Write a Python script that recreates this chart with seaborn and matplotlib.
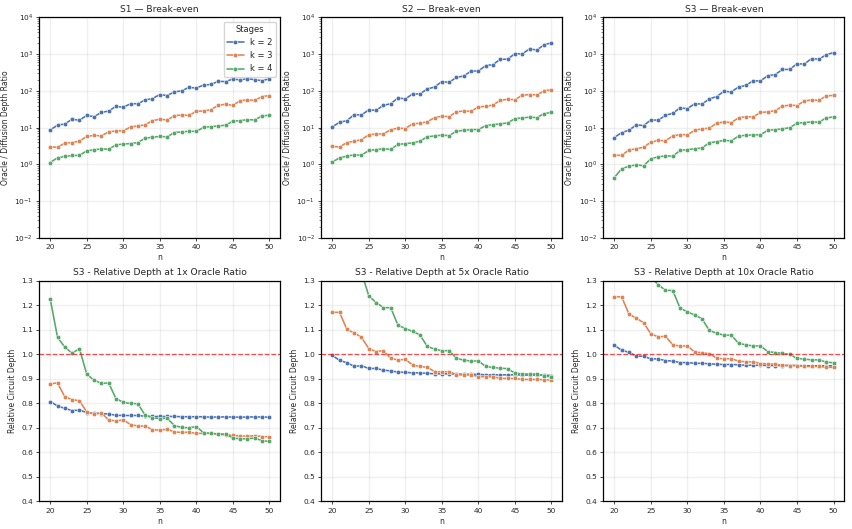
import matplotlib
matplotlib.use("Agg")
import matplotlib.pyplot as plt
import numpy as np
import pandas as pd
import seaborn as sns

n_values = list(range(20, 51))
stage_labels = ["k = 2", "k = 3", "k = 4"]

# break-even oracle/diffusion depth ratio, one list per stage count
s1_k2 = [8.7, 11.7, 12.7, 17, 16, 21.5, 20, 26, 28.5, 38, 36, 45, 45, 57, 62, 80,
         75, 94, 101, 125, 120, 145, 150, 183, 180, 211, 200, 215, 203, 190, 215]
s1_k3 = [3.0, 2.95, 3.8, 3.95, 4.3, 5.8, 6.2, 6.0, 7.7, 8.2, 8.2, 10.5, 11.2, 12, 15.6, 17,
         16.3, 21, 22.4, 21.5, 28, 28.5, 31, 40.6, 43.5, 40.6, 54.6, 57, 55.6, 70.4, 75]
s1_k4 = [1.13, 1.52, 1.65, 1.76, 1.76, 2.35, 2.5, 2.66, 2.6, 3.4, 3.6, 3.7, 3.95, 5.2, 5.5, 5.8,
         5.65, 7.4, 7.7, 8.0, 7.9, 10.3, 10.7, 11.2, 11.7, 15, 15.6, 16.6, 16.3, 21, 21.8]

s2_k2 = [10.6, 14, 15.6, 22.7, 22.3, 30.5, 29.8, 40.6, 45, 64.6, 60.7, 83, 83, 113, 128, 180,
         172, 235, 255, 348, 348, 490, 520, 730, 730, 1040, 1010, 1400, 1300, 1800, 2050]
s2_k3 = [3.1, 3.0, 3.95, 4.3, 4.75, 6.4, 6.8, 6.7, 8.9, 9.7, 9.5, 12.7, 13.3, 14.4, 18.9, 20.5,
         20, 27, 28.5, 28, 36.7, 38, 41.6, 55.6, 59.3, 58, 76, 80, 78, 101, 108]
s2_k4 = [1.16, 1.52, 1.68, 1.83, 1.79, 2.4, 2.55, 2.66, 2.6, 3.5, 3.7, 3.87, 4.3, 5.65, 6.0, 6.25,
         6.1, 8.0, 8.5, 8.9, 8.9, 11.4, 12.2, 12.7, 13.5, 17.7, 18.5, 19.3, 18.9, 24.2, 26]

s3_k2 = [5.4, 7.4, 8.5, 12, 11.4, 16.3, 16, 21.8, 24.7, 34.6, 33, 45, 44, 60.7, 70.4, 98,
         94, 128, 141, 190, 187, 260, 277, 385, 385, 550, 540, 760, 730, 965, 1110]
s3_k3 = [1.79, 1.76, 2.5, 2.66, 2.95, 4.05, 4.5, 4.4, 6.0, 6.5, 6.4, 8.5, 9.3, 9.7, 13.3, 14.4,
         13.8, 18.5, 20, 19.6, 26, 27, 29.2, 38, 41.6, 40, 53.5, 57, 55.6, 73, 76]
s3_k4 = [0.44, 0.76, 0.9, 0.98, 0.92, 1.43, 1.61, 1.72, 1.68, 2.4, 2.55, 2.66, 2.83, 3.87, 4.2, 4.5,
         4.4, 5.9, 6.25, 6.4, 6.4, 8.5, 8.9, 9.3, 10, 13.3, 13.8, 14.4, 14.1, 18.5, 19.6]

# relative circuit depth of S3 at several oracle ratios
rel1_k2 = [0.808, 0.790, 0.780, 0.771, 0.773, 0.763, 0.760, 0.759, 0.757, 0.752, 0.751, 0.751,
           0.751, 0.748, 0.747, 0.747, 0.747, 0.747, 0.746, 0.746, 0.746, 0.746, 0.744, 0.745,
           0.745, 0.745, 0.744, 0.745, 0.745, 0.745, 0.744]
rel1_k3 = [0.880, 0.884, 0.827, 0.816, 0.811, 0.766, 0.757, 0.762, 0.733, 0.729, 0.733, 0.714,
           0.708, 0.708, 0.693, 0.691, 0.695, 0.684, 0.682, 0.683, 0.678, 0.678, 0.678, 0.674,
           0.672, 0.670, 0.667, 0.667, 0.668, 0.665, 0.664]
rel1_k4 = [1.228, 1.070, 1.030, 1.005, 1.024, 0.920, 0.895, 0.882, 0.884, 0.820, 0.805, 0.800,
           0.799, 0.752, 0.742, 0.738, 0.740, 0.710, 0.702, 0.701, 0.706, 0.680, 0.678, 0.676,
           0.675, 0.659, 0.656, 0.656, 0.659, 0.648, 0.645]

rel5_k2 = [0.996, 0.976, 0.966, 0.952, 0.954, 0.943, 0.943, 0.936, 0.933, 0.928, 0.927, 0.925,
           0.925, 0.923, 0.921, 0.921, 0.921, 0.920, 0.919, 0.919, 0.919, 0.917, 0.917, 0.917,
           0.917, 0.917, 0.916, 0.916, 0.916, 0.916, 0.914]
rel5_k3 = [1.172, 1.172, 1.102, 1.088, 1.070, 1.024, 1.012, 1.016, 0.984, 0.978, 0.980, 0.957,
           0.951, 0.948, 0.930, 0.929, 0.930, 0.918, 0.916, 0.917, 0.910, 0.909, 0.909, 0.903,
           0.902, 0.902, 0.898, 0.898, 0.898, 0.897, 0.895]
rel5_k4 = [1.72, 1.45, 1.38, 1.32, 1.335, 1.239, 1.212, 1.191, 1.191, 1.119, 1.106, 1.094,
           1.080, 1.033, 1.022, 1.015, 1.016, 0.984, 0.977, 0.973, 0.974, 0.951, 0.947, 0.944,
           0.942, 0.924, 0.921, 0.920, 0.921, 0.912, 0.909]

rel10_k2 = [1.038, 1.017, 1.009, 0.993, 0.993, 0.982, 0.982, 0.975, 0.973, 0.967, 0.967, 0.964,
            0.964, 0.962, 0.960, 0.959, 0.959, 0.958, 0.956, 0.956, 0.956, 0.955, 0.955, 0.955,
            0.955, 0.955, 0.954, 0.954, 0.954, 0.954, 0.954]
rel10_k3 = [1.236, 1.235, 1.165, 1.148, 1.130, 1.084, 1.072, 1.074, 1.040, 1.034, 1.035, 1.010,
            1.007, 1.003, 0.985, 0.982, 0.983, 0.973, 0.970, 0.970, 0.963, 0.962, 0.960, 0.956,
            0.955, 0.955, 0.951, 0.951, 0.951, 0.948, 0.947]
rel10_k4 = [1.85, 1.57, 1.50, 1.43, 1.45, 1.315, 1.285, 1.262, 1.261, 1.189, 1.174, 1.161,
            1.146, 1.098, 1.087, 1.079, 1.079, 1.046, 1.039, 1.035, 1.035, 1.012, 1.008, 1.005,
            1.000, 0.984, 0.981, 0.978, 0.978, 0.969, 0.966]

break_even = {
    "S1 — Break-even": [s1_k2, s1_k3, s1_k4],
    "S2 — Break-even": [s2_k2, s2_k3, s2_k4],
    "S3 — Break-even": [s3_k2, s3_k3, s3_k4],
}
relative = {
    "S3 - Relative Depth at 1x Oracle Ratio": [rel1_k2, rel1_k3, rel1_k4],
    "S3 - Relative Depth at 5x Oracle Ratio": [rel5_k2, rel5_k3, rel5_k4],
    "S3 - Relative Depth at 10x Oracle Ratio": [rel10_k2, rel10_k3, rel10_k4],
}


def to_long(series_list):
    frames = []
    for label, vals in zip(stage_labels, series_list):
        frames.append(pd.DataFrame({"n": n_values, "value": vals, "Stages": label}))
    return pd.concat(frames, ignore_index=True)


sns.set_theme(style="ticks", palette="deep")
plt.rcParams.update({
    "font.family": ["DejaVu Sans"],
    "axes.edgecolor": "black",
    "axes.linewidth": 0.9,
    "xtick.labelsize": 5.3,
    "ytick.labelsize": 5.3,
    "axes.labelsize": 5.5,
    "axes.titlesize": 6.6,
    "xtick.major.size": 2.5,
    "ytick.major.size": 2.5,
    "xtick.major.width": 0.6,
    "ytick.major.width": 0.6,
    "ytick.minor.size": 1.5,
    "ytick.minor.width": 0.4,
    "xtick.major.pad": 2,
    "ytick.major.pad": 2,
})

palette = sns.color_palette("deep", 3)
fig, axes = plt.subplots(2, 3, figsize=(8.53, 5.29), dpi=100)
fig.subplots_adjust(left=0.046, right=0.99, top=0.967, bottom=0.052, wspace=0.17, hspace=0.195)

line_kw = dict(marker="o", markersize=3.3, linewidth=1.15, markeredgewidth=0.4)

for i, (title, series) in enumerate(break_even.items()):
    ax = axes[0, i]
    df = to_long(series)
    sns.lineplot(data=df, x="n", y="value", hue="Stages", palette=palette, ax=ax,
                 legend=(i == 0), **line_kw)
    ax.set_yscale("log")
    ax.set_ylim(1e-2, 1e4)
    ax.set_xticks(range(20, 51, 5))
    ax.grid(True, which="major", alpha=0.3)
    ax.set_title(title, pad=4)
    ax.set_xlabel("n", labelpad=2)
    ax.set_ylabel("Oracle / Diffusion Depth Ratio", labelpad=3)
    if i == 0:
        ax.legend(title="Stages", loc="upper right", fontsize=6, title_fontsize=6,
                  frameon=True)

for i, (title, series) in enumerate(relative.items()):
    ax = axes[1, i]
    df = to_long(series)
    sns.lineplot(data=df, x="n", y="value", hue="Stages", palette=palette, ax=ax,
                 legend=False, **line_kw)
    ax.axhline(1.0, color="red", linestyle="--", linewidth=0.9, alpha=0.7)
    ax.set_ylim(0.4, 1.3)
    ax.set_yticks(np.arange(0.4, 1.31, 0.1))
    ax.set_xticks(range(20, 51, 5))
    ax.grid(True, alpha=0.3)
    ax.set_title(title, pad=4)
    ax.set_xlabel("n", labelpad=2)
    ax.set_ylabel("Relative Circuit Depth", labelpad=3)

fig.savefig("out.png", dpi=100)
